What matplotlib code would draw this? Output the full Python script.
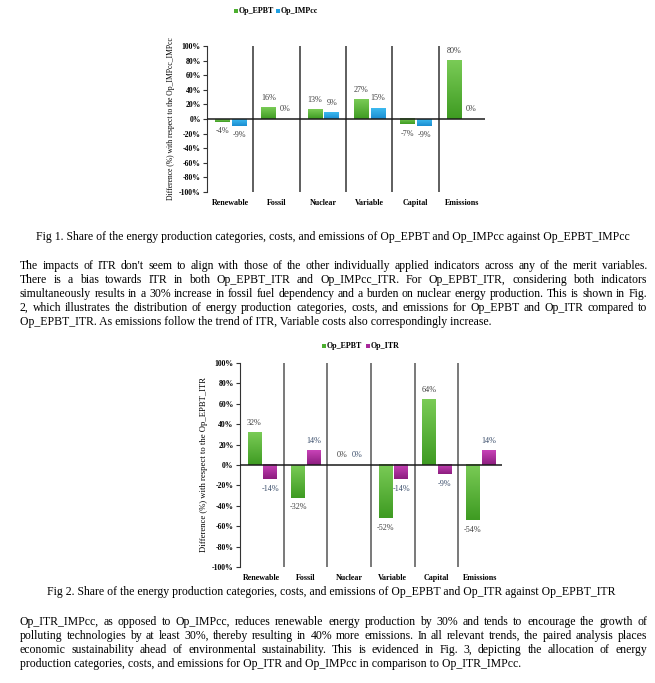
import matplotlib
matplotlib.use("Agg")
import matplotlib.pyplot as plt
import numpy as np
from matplotlib.colors import LinearSegmentedColormap
from matplotlib.patches import Rectangle

# data (%)
categories = ["Renewable", "Fossil", "Nuclear", "Variable", "Capital", "Emissions"]
fig1_epbt = [-4, 16, 13, 27, -7, 80]
fig1_impcc = [-9, 0, 9, 15, -9, 0]
fig2_epbt = [32, -32, 0, -52, 64, -54]
fig2_itr = [-14, 14, 0, -14, -9, 14]
yticks = [-100, -80, -60, -40, -20, 0, 20, 40, 60, 80, 100]

caption1 = ("Fig 1. Share of the energy production categories, costs, and emissions "
            "of Op_EPBT and Op_IMPcc against Op_EPBT_IMPcc")
caption2 = ("Fig 2. Share of the energy production categories, costs, and emissions "
            "of Op_EPBT and Op_ITR against Op_EPBT_ITR")
para1 = [
    "The impacts of ITR don't seem to align with those of the other individually applied indicators across any of the merit variables.",
    "There is a bias towards ITR in both Op_EPBT_ITR and Op_IMPcc_ITR. For Op_EPBT_ITR, considering both indicators",
    "simultaneously results in a 30% increase in fossil fuel dependency and a burden on nuclear energy production. This is shown in Fig.",
    "2, which illustrates the distribution of energy production categories, costs, and emissions for Op_EPBT and Op_ITR compared to",
    "Op_EPBT_ITR. As emissions follow the trend of ITR, Variable costs also correspondingly increase.",
]
para2 = [
    "Op_ITR_IMPcc, as opposed to Op_IMPcc, reduces renewable energy production by 30% and tends to encourage the growth of",
    "polluting technologies by at least 30%, thereby resulting in 40% more emissions. In all relevant trends, the paired analysis places",
    "economic sustainability ahead of environmental sustainability. This is evidenced in Fig. 3, depicting the allocation of energy",
    "production categories, costs, and emissions for Op_ITR and Op_IMPcc in comparison to Op_ITR_IMPcc.",
]

SERIF = "Liberation Serif"
W, H = 655, 683
fig = plt.figure(figsize=(W / 100, H / 100), dpi=100)
fig.patch.set_facecolor("white")
renderer = fig.canvas.get_renderer()


def box(l, t, r, b):
    return [l / W, 1 - b / H, (r - l) / W, (b - t) / H]


def grad_bars(ax, x, vals, width, light, dark):
    cmap = LinearSegmentedColormap.from_list("g", [dark, light])
    bars = ax.bar(x, vals, width, color=dark, zorder=2, linewidth=0)
    g = np.linspace(0, 1, 64).reshape(-1, 1)
    for b in bars:
        x0, y0 = b.get_x(), b.get_y()
        w, h = b.get_width(), b.get_height()
        lo, hi = min(y0, y0 + h), max(y0, y0 + h)
        if hi - lo == 0:
            continue
        ax.imshow(g, extent=[x0, x0 + w, lo, hi], origin="lower", cmap=cmap,
                  aspect="auto", zorder=2.1, interpolation="bilinear")
    return bars


def value_labels(ax, x, vals, color, fs):
    for xi, v in zip(x, vals):
        off = -4 if v < 0 else 4
        ax.annotate(f"{v}%", (xi, v / 100), xytext=(0, off), textcoords="offset points",
                    ha="center", va="top" if v < 0 else "bottom",
                    fontsize=fs, family=SERIF, color=color, zorder=4)


def chart(rect, s1, s2, c1, c2, lab_col2, ylabel, sep_col, tick_fs, lab_fs, val_fs, yl_fs):
    ax = fig.add_axes(rect)
    idx = np.arange(len(categories)) + 0.5
    v1 = np.array(s1) / 100
    v2 = np.array(s2) / 100
    grad_bars(ax, idx - 0.17, v1, 0.31, *c1)
    grad_bars(ax, idx + 0.19, v2, 0.31, *c2)
    value_labels(ax, idx - 0.17, s1, "#404040", val_fs)
    value_labels(ax, idx + 0.19, s2, lab_col2, val_fs)
    for k in range(1, len(categories)):
        ax.axvline(k, color=sep_col, lw=1.1, zorder=1)
    ax.axhline(0, color="#1a1a1a", lw=1.1, zorder=3)
    ax.set_xlim(0, len(categories))
    ax.set_ylim(-1, 1)
    ax.set_aspect("auto")
    for sp in ["top", "right", "bottom"]:
        ax.spines[sp].set_visible(False)
    ax.spines["left"].set_color("#333333")
    ax.set_yticks(np.array(yticks) / 100)
    ax.set_yticklabels([f"{t}%" for t in yticks], fontsize=tick_fs, family=SERIF,
                       fontweight="bold")
    ax.tick_params(axis="y", length=3, width=0.8, pad=1.5, colors="#333333",
                   labelcolor="black")
    ax.set_xticks(idx)
    ax.set_xticklabels(categories, fontsize=lab_fs, family=SERIF, fontweight="bold")
    ax.tick_params(axis="x", length=0, pad=5)
    ax.set_ylabel(ylabel, fontsize=yl_fs, family=SERIF, labelpad=3)
    ax.patch.set_alpha(0)
    return ax


def legend(x, y, items, fs):
    for name, col, dx in items:
        fig.patches.append(Rectangle(((x + dx) / W, 1 - (y + 2) / H), 4 / W, 4 / H,
                                     transform=fig.transFigure, color=col, lw=0))
        fig.text((x + dx + 5) / W, 1 - y / H, name, fontsize=fs, family=SERIF,
                 fontweight="bold", va="center", ha="left")


green = ("#7ACB56", "#3E9B22")
blue = ("#3DBAF0", "#1A8CD0")
magenta = ("#C843B8", "#8C1D7E")

chart(box(207, 46, 485, 192), fig1_epbt, fig1_impcc, green, blue, "#404040",
      "Difference (%) with respect to the Op_IMPcc_IMPcc", "#333333", 5.6, 5.8, 5.9, 5.5)
legend(234, 11, [("Op_EPBT", "#4CAF2F", 0), ("Op_IMPcc", "#1FA0E3", 42)], 5.8)

chart(box(240, 363, 502, 567), fig2_epbt, fig2_itr, green, magenta, "#3B4E6B",
      "Difference (%) with respect to the Op_EPBT_ITR", "#555555", 5.6, 5.8, 5.9, 6.2)
legend(322, 346, [("Op_EPBT", "#4CAF2F", 0), ("Op_ITR", "#A8289A", 44)], 5.8)

# body text, justified like the page
tmp = fig.text(0, 0, para2[-1], fontsize=10, family=SERIF)
body_fs = 10 * 500 / tmp.get_window_extent(renderer).width
tmp.remove()


def paragraph(lines, top, step, left=20, right=647):
    for i, line in enumerate(lines):
        y = 1 - (top + i * step) / H
        if i == len(lines) - 1:
            fig.text(left / W, y, line, fontsize=body_fs, family=SERIF, va="center")
            continue
        words = line.split(" ")
        ts = [fig.text(0, y, w, fontsize=body_fs, family=SERIF, va="center") for w in words]
        ws = [t.get_window_extent(renderer).width for t in ts]
        gap = (right - left - sum(ws)) / (len(words) - 1)
        x = left
        for t, w in zip(ts, ws):
            t.set_x(x / W)
            x += w + gap


fig.text(0.5 + 5 / W, 1 - 237 / H, caption1, fontsize=body_fs, family=SERIF,
         ha="center", va="center")
paragraph(para1, 266, 14)
fig.text(0.5 + 4 / W, 1 - 592 / H, caption2, fontsize=body_fs, family=SERIF,
         ha="center", va="center")
paragraph(para2, 622, 14)

fig.savefig("out.png", dpi=100, facecolor="white")
